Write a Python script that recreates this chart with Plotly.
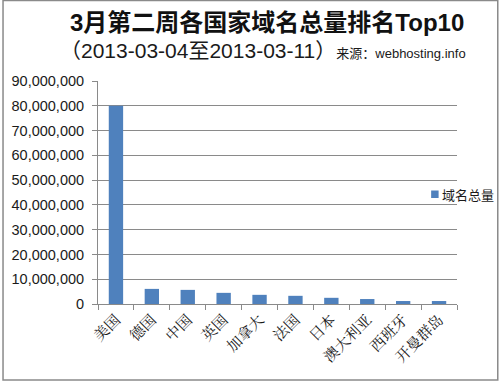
import plotly.graph_objects as go

categories = ["美国", "德国", "中国", "英国", "加拿大", "法国", "日本", "澳大利亚", "西班牙", "开曼群岛"]
values = [80000000, 6100000, 5700000, 4500000, 3700000, 3300000, 2500000, 2000000, 1200000, 1200000]
series_name = "域名总量"
title_text = "3月第二周各国家域名总量排名Top10"
subtitle_text = "（2013-03-04至2013-03-11）"
source_text = "来源：webhosting.info"

W, H = 503, 381
L, R, T, B = 96, 457, 81, 304
pw, ph = R - L, B - T

def px(x):
    return (x - L) / pw

def py(y):
    return (B - y) / ph

FONT = "Liberation Sans, Arial, Noto Sans CJK SC, sans-serif"
GRID = "#8a8a8a"
BAR = "#4F81BD"

fig = go.Figure()
fig.add_trace(go.Bar(
    x=categories, y=values, name=series_name,
    marker=dict(color=BAR, line=dict(width=0)),
    showlegend=False,
))

fig.update_layout(
    width=W, height=H,
    margin=dict(l=L, r=W - R, t=T, b=H - B, pad=0),
    paper_bgcolor="white", plot_bgcolor="white",
    bargap=0.6,
    font=dict(family=FONT, color="#1a1a1a"),
    showlegend=False,
    xaxis=dict(
        type="category",
        tickangle=-45,
        tickfont=dict(size=15, family="Noto Serif CJK SC, Noto Sans CJK SC, serif", color="#1a1a1a"),
        showline=True, linecolor=GRID, linewidth=1,
        ticks="outside", tickson="boundaries", ticklen=5, tickcolor=GRID,
        showgrid=False, zeroline=False,
    ),
    yaxis=dict(
        range=[0, 90000000], dtick=10000000, tickformat=",",
        tickfont=dict(size=14.5, family=FONT, color="#1a1a1a"),
        showline=True, linecolor=GRID, linewidth=1,
        ticks="outside", ticklen=5, tickcolor=GRID,
        ticklabelstandoff=5,
        showgrid=True, gridcolor=GRID, gridwidth=1,
        zeroline=False,
    ),
    annotations=[
        dict(text="<b>" + title_text + "</b>", xref="paper", yref="paper",
             x=px(66), y=py(23), xanchor="left", yanchor="middle", showarrow=False,
             font=dict(size=24, family=FONT, color="#111111")),
        dict(text=subtitle_text + "<span style='font-size:13px'>" + source_text + "</span>",
             xref="paper", yref="paper",
             x=px(56), y=py(50), xanchor="left", yanchor="middle", showarrow=False,
             font=dict(size=21, family=FONT, color="#1a1a1a")),
        dict(text=series_name, xref="paper", yref="paper",
             x=px(440), y=py(194.5), xanchor="left", yanchor="middle", showarrow=False,
             font=dict(size=13, family="Noto Sans CJK SC, sans-serif", color="#1a1a1a")),
    ],
    shapes=[
        dict(type="rect", xref="paper", yref="paper",
             x0=px(0.5), x1=px(498), y0=py(380), y1=py(0.5),
             line=dict(color="#8a8a8a", width=1.5), fillcolor="rgba(0,0,0,0)", layer="below"),
        dict(type="rect", xref="paper", yref="paper",
             x0=px(431), x1=px(438.5), y0=py(198), y1=py(190.5),
             line=dict(width=0), fillcolor=BAR),
    ],
)

fig.write_html("out.html", config={"displayModeBar": False},
               post_script="document.body.style.margin='0';document.body.style.overflow='hidden';")
